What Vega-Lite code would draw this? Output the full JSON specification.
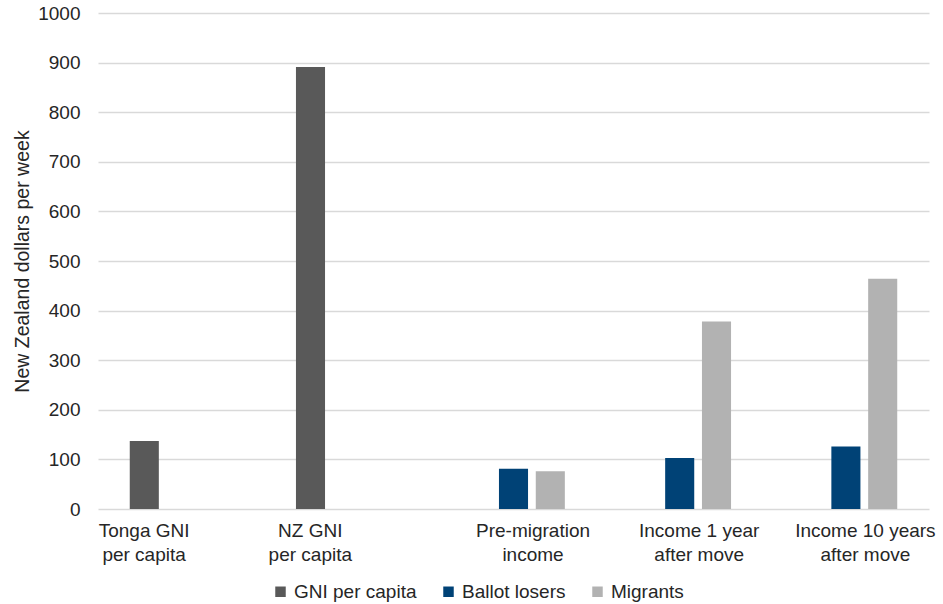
{
  "$schema": "https://vega.github.io/schema/vega-lite/v6.json",
  "width": 831,
  "height": 496,
  "autosize": {"type": "none"},
  "padding": {"left": 98, "top": 13, "right": 14, "bottom": 95},
  "background": "white",
  "config": {"font": "Liberation Sans", "view": {"stroke": null}},
  "data": {
    "values": [
      {"group": "Tonga GNI|per capita", "series": "GNI per capita", "value": 137},
      {"group": "NZ GNI|per capita", "series": "GNI per capita", "value": 891},
      {"group": "Pre-migration|income", "series": "Ballot losers", "value": 81},
      {"group": "Pre-migration|income", "series": "Migrants", "value": 76},
      {"group": "Income 1 year|after move", "series": "Ballot losers", "value": 103},
      {"group": "Income 1 year|after move", "series": "Migrants", "value": 378},
      {"group": "Income 10 years|after move", "series": "Ballot losers", "value": 126},
      {"group": "Income 10 years|after move", "series": "Migrants", "value": 464}
    ]
  },
  "mark": {"type": "bar"},
  "encoding": {
    "x": {
      "field": "group",
      "type": "nominal",
      "sort": ["Tonga GNI|per capita", "NZ GNI|per capita", "Pre-migration|income", "Income 1 year|after move", "Income 10 years|after move"],
      "scale": {"paddingInner": 0, "paddingOuter": 0},
      "axis": {
        "title": null,
        "domain": false,
        "ticks": false,
        "grid": false,
        "labelAngle": 0,
        "labelFontSize": 19,
        "labelColor": "#262626",
        "labelLineHeight": 24,
        "labelPadding": 12,
        "labelBaseline": "top",
        "labelExpr": "split(datum.value, '|')",
        "labelOffset": {"condition": {"test": "indexof(datum.value, 'GNI') >= 0", "value": -37}, "value": 19.5}
      }
    },
    "xOffset": {
      "field": "series",
      "type": "nominal",
      "sort": ["GNI per capita", "Ballot losers", "Migrants"],
      "scale": {"domain": ["GNI per capita", "Ballot losers", "Migrants"], "paddingInner": 0.21, "paddingOuter": 0.863}
    },
    "y": {
      "field": "value",
      "type": "quantitative",
      "scale": {"domain": [0, 1000], "nice": false},
      "axis": {
        "values": [0, 100, 200, 300, 400, 500, 600, 700, 800, 900, 1000],
        "format": "d",
        "domain": false,
        "ticks": false,
        "tickSize": 0,
        "gridColor": "#d9d9d9",
        "gridWidth": 1.5,
        "labelFontSize": 19,
        "labelColor": "#262626",
        "labelPadding": 18,
        "title": "New Zealand dollars per week",
        "titleFontSize": 19.5,
        "titleFontWeight": "normal",
        "titleColor": "#262626",
        "titlePadding": 5
      }
    },
    "color": {
      "field": "series",
      "type": "nominal",
      "scale": {"domain": ["GNI per capita", "Ballot losers", "Migrants"], "range": ["#595959", "#004276", "#b2b2b2"]},
      "legend": {
        "orient": "none",
        "legendX": 173,
        "legendY": 569,
        "direction": "horizontal",
        "title": null,
        "symbolType": "square",
        "symbolSize": 110,
        "symbolStrokeWidth": 0,
        "symbolOpacity": 1,
        "labelFontSize": 19,
        "labelColor": "#262626",
        "labelOffset": 4,
        "labelLimit": 300,
        "columnPadding": 22,
        "padding": 0
      }
    }
  }
}
